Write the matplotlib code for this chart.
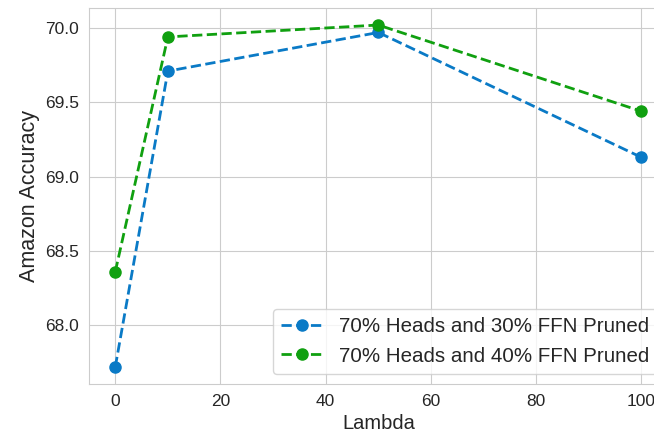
import matplotlib
matplotlib.use("Agg")
import seaborn as sns
from matplotlib import pyplot as plt

lambdas = [0, 10, 50, 100]
acc_30 = [67.72, 69.71, 69.97, 69.13]
acc_40 = [68.36, 69.94, 70.02, 69.44]
labels = ["70% Heads and 30% FFN Pruned", "70% Heads and 40% FFN Pruned"]

sns.set_style("whitegrid")
plt.rcParams['font.family'] = ['Liberation Sans', 'DejaVu Sans']

fig = plt.figure(figsize=(6.54, 4.4), dpi=100)
ax = fig.add_axes([0.136, 0.127, 0.885, 0.855])

ax.plot(lambdas, acc_30, '--o', color='#0a7ac6', lw=2, ms=8, label=labels[0])
ax.plot(lambdas, acc_40, '--o', color='#10a010', lw=2, ms=8, label=labels[1])

ax.set_xlabel('Lambda', fontsize=14.5)
ax.set_ylabel('Amazon Accuracy', fontsize=15.5)
ax.tick_params(labelsize=12.5)
ax.set_yticks([68.0, 68.5, 69.0, 69.5, 70.0])
ax.legend(loc='lower right', fontsize=14.8)

fig.savefig('out.png', dpi=100)
